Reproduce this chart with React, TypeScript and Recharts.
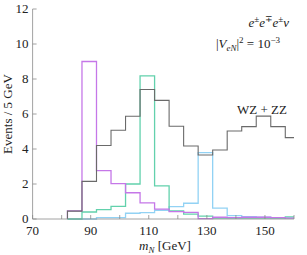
import React from 'react';
import { ComposedChart, Line, XAxis, YAxis } from 'recharts';

// Histogram bins of 5 GeV; left edges
const binStarts = [82, 87, 92, 97, 102, 107, 112, 117, 122, 127, 132, 137, 142, 147, 152, 157];
const binEnd = 162;

const wzzz = [0.45, 2.15, 4.2, 5.07, 5.87, 7.4, 6.78, 5.3, 4.17, 3.66, 3.94, 5.03, 5.28, 5.88, 5.28, 4.65];
const m90 = [0.47, 9.0, 2.76, 2.02, 1.5, 0.92, 0.57, 0.42, 0.38, 0.02, 0.1, 0.08, 0.1, 0.1, 0.08, 0.05];
const m110 = [0.0, 0.4, 0.54, 0.72, 2.0, 8.18, 1.89, 0.46, 0.28, 0.17, 0.05, 0.05, 0.05, 0.05, 0.05, 0.12];
const m130 = [0.0, 0.0, 0.08, 0.08, 0.33, 0.36, 0.5, 0.71, 0.9, 3.79, 0.62, 0.19, 0.14, 0.1, 0.08, 0.05];

const xTicks = [70, 80, 90, 100, 110, 120, 130, 140, 150, 160];
const xLabels = [70, 90, 110, 130, 150];
const yTicks = [0, 2, 4, 6, 8, 10, 12];

const rows = [
  { x: binStarts[0], wzzz: 0, m90: 0, m110: 0, m130: 0 },
  ...binStarts.map((x, i) => ({ x, wzzz: wzzz[i], m90: m90[i], m110: m110[i], m130: m130[i] })),
  {
    x: binEnd,
    wzzz: wzzz[wzzz.length - 1],
    m90: m90[m90.length - 1],
    m110: m110[m110.length - 1],
    m130: m130[m130.length - 1],
  },
];

const FONT = 'Liberation Serif, DejaVu Serif, serif';
const AXIS = '#8a8a8a';

const BottomTick = (p: any) => {
  const v = p.payload.value;
  return (
    <g>
      <line x1={p.x} x2={p.x} y1={p.y} y2={p.y - 4} stroke={AXIS} strokeWidth={0.8} />
      {xLabels.includes(v) && (
        <text x={p.x} y={p.y + 16} textAnchor="middle" fontFamily={FONT} fontSize={13} fill="#222">
          {v}
        </text>
      )}
    </g>
  );
};
const TopTick = (p: any) => (
  <line x1={p.x} x2={p.x} y1={p.y} y2={p.y + 4} stroke={AXIS} strokeWidth={0.8} />
);
const LeftTick = (p: any) => (
  <g>
    <line x1={p.x} x2={p.x + 4} y1={p.y} y2={p.y} stroke={AXIS} strokeWidth={0.8} />
    <text x={p.x - 4} y={p.y + 4} textAnchor="end" fontFamily={FONT} fontSize={13} fill="#222">
      {p.payload.value}
    </text>
  </g>
);
const RightTick = (p: any) => (
  <line x1={p.x} x2={p.x - 4} y1={p.y} y2={p.y} stroke={AXIS} strokeWidth={0.8} />
);

export default function App() {
  return (
    <div style={{ position: 'absolute', left: 0, top: 0, width: 307, height: 255, background: '#fff' }}>
      <ComposedChart width={307} height={255} data={rows} margin={{ top: 9, right: 13, left: 0, bottom: 0 }}>
        <XAxis
          xAxisId="b"
          dataKey="x"
          type="number"
          domain={[70, 160]}
          allowDataOverflow
          ticks={xTicks}
          interval={0}
          height={36}
          tickSize={0}
          tickMargin={0}
          tick={<BottomTick />}
          axisLine={{ stroke: AXIS, strokeWidth: 0.8 }}
        />
        <XAxis
          xAxisId="t"
          orientation="top"
          dataKey="x"
          type="number"
          domain={[70, 160]}
          allowDataOverflow
          ticks={xTicks}
          interval={0}
          height={0}
          tickSize={0}
          tickMargin={0}
          tick={<TopTick />}
          axisLine={{ stroke: AXIS, strokeWidth: 0.8 }}
        />
        <YAxis
          yAxisId="l"
          type="number"
          domain={[0, 12]}
          ticks={yTicks}
          interval={0}
          width={32.6}
          tickSize={0}
          tickMargin={0}
          tick={<LeftTick />}
          axisLine={{ stroke: AXIS, strokeWidth: 0.8 }}
        />
        <YAxis
          yAxisId="r"
          orientation="right"
          type="number"
          domain={[0, 12]}
          ticks={yTicks}
          interval={0}
          width={0}
          tickSize={0}
          tickMargin={0}
          tick={<RightTick />}
          axisLine={{ stroke: AXIS, strokeWidth: 0.8 }}
        />
        <Line xAxisId="b" yAxisId="l" type="stepAfter" dataKey="m130" stroke="#92d2f4" strokeWidth={1.3} dot={false} isAnimationActive={false} />
        <Line xAxisId="b" yAxisId="l" type="stepAfter" dataKey="m110" stroke="#62d1ac" strokeWidth={1.3} dot={false} isAnimationActive={false} />
        <Line xAxisId="b" yAxisId="l" type="stepAfter" dataKey="m90" stroke="#c577e8" strokeWidth={1.3} dot={false} isAnimationActive={false} />
        <Line xAxisId="b" yAxisId="l" type="stepAfter" dataKey="wzzz" stroke="#6a6a6a" strokeWidth={1.1} dot={false} isAnimationActive={false} />
      </ComposedChart>
      <svg width={307} height={255} style={{ position: 'absolute', left: 0, top: 0, pointerEvents: 'none' }}>
        <text x={289} y={27} textAnchor="end" fontFamily={FONT} fontSize={13} fill="#222">
          <tspan fontStyle="italic">e</tspan>
          <tspan fontSize={9} dy={-5}>±</tspan>
          <tspan fontStyle="italic" dy={5}>e</tspan>
          <tspan fontSize={9} dy={-5}>∓</tspan>
          <tspan fontStyle="italic" dy={5}>e</tspan>
          <tspan fontSize={9} dy={-5}>±</tspan>
          <tspan fontStyle="italic" dy={5}>ν</tspan>
        </text>
        <text x={280} y={48} textAnchor="end" fontFamily={FONT} fontSize={13} fill="#222">
          <tspan>|</tspan>
          <tspan fontStyle="italic">V</tspan>
          <tspan fontStyle="italic" fontSize={9} dy={3}>eN</tspan>
          <tspan dy={-3}>|</tspan>
          <tspan fontSize={9} dy={-5}>2</tspan>
          <tspan dy={5}> = 10</tspan>
          <tspan fontSize={9} dy={-5}>−3</tspan>
        </text>
        <text x={287} y={114} textAnchor="end" fontFamily={FONT} fontSize={13} fill="#222">
          WZ + ZZ
        </text>
        <text x={165} y={250} textAnchor="middle" fontFamily={FONT} fontSize={13} fill="#222">
          <tspan fontStyle="italic">m</tspan>
          <tspan fontStyle="italic" fontSize={9} dy={3}>N</tspan>
          <tspan dy={-3}> [GeV]</tspan>
        </text>
        <text
          x={0}
          y={0}
          transform="translate(12,114) rotate(-90)"
          textAnchor="middle"
          fontFamily={FONT}
          fontSize={13}
          fill="#222"
        >
          Events / 5 GeV
        </text>
      </svg>
    </div>
  );
}
